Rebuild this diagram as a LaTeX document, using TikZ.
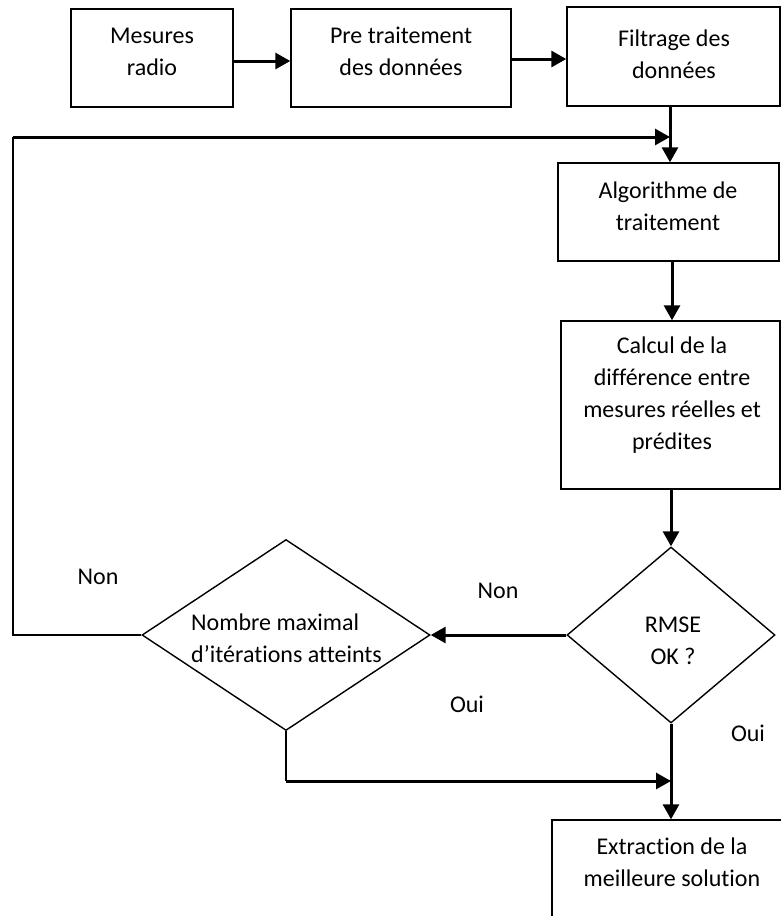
\documentclass[tikz,border=0pt]{standalone}
\usepackage{fontspec}
\setmainfont{Carlito}[Ligatures={NoCommon}]
\usetikzlibrary{arrows.meta,shapes.geometric}
\begin{document}
\begin{tikzpicture}[x=1pt,y=-1pt,
  box/.style={draw,line width=1.4pt,inner sep=0pt,rectangle},
  dia/.style={draw,line width=1.4pt,inner sep=0pt,diamond},
  txt/.style={align=center,inner sep=0pt,font=\fontsize{24}{32}\selectfont},
  lab/.style={inner sep=0pt,font=\fontsize{24}{32}\selectfont},
  arr/.style={line width=3pt,-{Triangle[length=15pt,width=16pt]}},
  thinline/.style={line width=2pt},
  thickline/.style={line width=3pt}]
\useasboundingbox (0,0) rectangle (781,916);
% boxes
\node[box,minimum width=162pt,minimum height=98pt] (mes) at (152,58) {};
\node[box,minimum width=220pt,minimum height=98pt] (pre) at (401,58) {};
\node[box,minimum width=213pt,minimum height=99pt] (filt) at (673.5,56.5) {};
\node[box,minimum width=221pt,minimum height=98pt] (algo) at (668.5,212) {};
\node[box,minimum width=219pt,minimum height=168pt] (calc) at (670.5,405) {};
\node[dia,minimum width=208pt,minimum height=176pt] (rmse) at (671,635) {};
\node[dia,minimum width=288pt,minimum height=191pt] (nomb) at (286,635) {};
\node[box,minimum width=238pt,minimum height=120pt] (ext) at (671,880) {};
% texts
\node[txt] (mesT) at (152,52) {Mesures\\radio};
\node[txt] (preT) at (401,51) {Pre traitement\\des données};
\node[txt] (filtT) at (674,54) {Filtrage des\\données};
\node[txt] (algoT) at (668,206) {Algorithme de\\traitement};
\node[txt] (calcT) at (672,395) {Calcul de la\\différence entre\\mesures réelles et\\prédites};
\node[txt] (rmseT) at (673,641) {RMSE\\OK ?};
\node[txt,align=left,anchor=west] (nombT) at (191,638) {Nombre maximal\\d’itérations atteints};
\node[txt] (extT) at (672,862) {Extraction de la\\meilleure solution};
% labels
\node[lab] (non1) at (98,577) {Non};
\node[lab] (non2) at (498,591) {Non};
\node[lab] (oui1) at (467,704) {Oui};
\node[lab] (oui2) at (748,733) {Oui};
% coordinates
\coordinate (lp) at (13,137);
\coordinate (j1) at (670,137);
\coordinate (nb) at (286,781);
\coordinate (j2) at (671,781);
% connectors
\draw[arr] (mes.east |- 0,61) -- (pre.west |- 0,61);
\draw[arr] (pre.east |- 0,59) -- (filt.west |- 0,59);
\draw[arr] (filt.south -| j1) -- (algo.north -| j1);
\draw[thinline] (nomb.west) -| (lp);
\draw[arr] (lp) -- (j1);
\draw[arr] (algo.south -| 672,0) -- (calc.north -| 672,0);
\draw[arr] (calc.south -| rmse.north) -- (rmse.north);
\draw[arr] (rmse.west) -- (nomb.east);
\draw[arr] (rmse.south) -- (ext.north);
\draw[thinline] (nomb.south) -- (nb);
\draw[arr] (nb) -- (j2);
\end{tikzpicture}
\end{document}
